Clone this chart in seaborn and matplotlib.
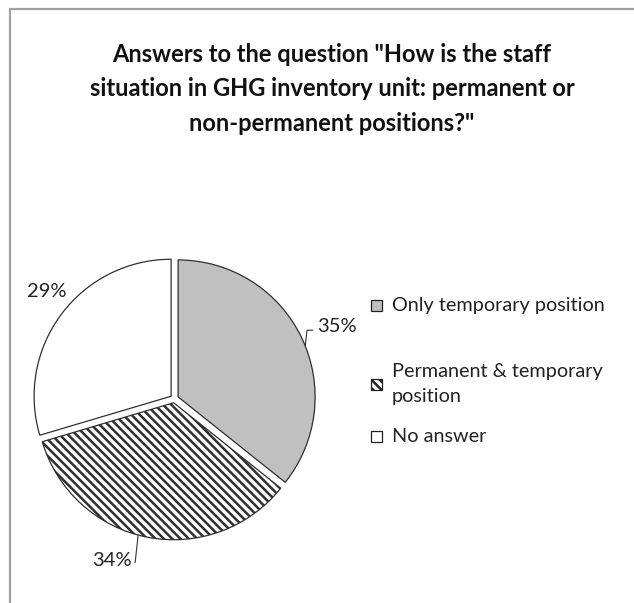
import matplotlib
matplotlib.use("Agg")
import matplotlib.pyplot as plt
import seaborn as sns
from matplotlib.patches import Rectangle
from matplotlib.lines import Line2D
import numpy as np

# Survey answers (percent of respondents)
categories = ["Only temporary position", "Permanent & temporary\nposition", "No answer"]
shares = [35, 34, 29]
pct_labels = ["35%", "34%", "29%"]

title = ('Answers to the question "How is the staff\n'
         'situation in GHG inventory unit: permanent or\n'
         'non-permanent positions?"')

sns.set_theme(style="white")
plt.rcParams["font.family"] = ["Lato", "DejaVu Sans"]
plt.rcParams["hatch.linewidth"] = 1.8

W, H = 634, 603
fig = plt.figure(figsize=(W / 100, H / 100), dpi=100)
fig.patch.set_facecolor("white")

fills = ["#c0c0c0", "white", "white"]
hatches = [None, "\\\\\\\\", None]

# Pie axes: 1 data unit = 137 px, centre at (174, 399) px from top-left
R_PX = 137.0
span = 1.2
cx, cy = 174.4, 398.7
size = 2 * span * R_PX
ax = fig.add_axes([(cx - span * R_PX) / W, (H - cy - span * R_PX) / H, size / W, size / H])

explode = [0.03, 0.03, 0.03]
wedges, _ = ax.pie(shares, startangle=90, counterclock=False, explode=explode,
                   colors=fills, radius=1.0,
                   wedgeprops=dict(edgecolor="#303030", linewidth=0.9))
for w, h in zip(wedges, hatches):
    if h:
        w.set_hatch(h)
ax.set_xlim(-span, span)
ax.set_ylim(-span, span)
ax.set_aspect("equal")
ax.axis("off")

# Percentage labels with leader lines
def arc_point(w, frac=0.5):
    ang = np.deg2rad(w.theta1 + (w.theta2 - w.theta1) * frac)
    c = w.center
    return c[0] + w.r * np.cos(ang), c[1] + w.r * np.sin(ang)

txt_kw = dict(fontsize=14.5, color="#222222")
# 35%
p = arc_point(wedges[0], 0.47)
ax.plot([p[0], 0.968, 1.01], [p[1], 0.50, 0.50], color="#333333", lw=0.8)
ax.text(1.04, 0.53, pct_labels[0], ha="left", va="center", **txt_kw)
# 34%
p = arc_point(wedges[1], 0.468)
ax.plot([p[0], -0.29], [p[1], -1.23], color="#333333", lw=0.8)
ax.text(-0.31, -1.18, pct_labels[1], ha="right", va="center", **txt_kw)
# 29%
ax.text(-0.93, 0.78, pct_labels[2], ha="center", va="center", **txt_kw)

# Title
fig.text(332 / W, 1 - 89 / H, title, ha="center", va="center", fontsize=17,
         fontweight="bold", linespacing=1.58, color="#111111")

# Legend
leg_y = [305, 384, 436]
for lab, y, fc, h in zip(categories, leg_y, fills, hatches):
    sq = 11
    r = Rectangle(((376 - sq / 2) / W, 1 - (y + sq / 2) / H), sq / W, sq / H,
                  transform=fig.transFigure, facecolor=fc, edgecolor="#222222",
                  linewidth=0.9, hatch=h)
    fig.add_artist(r)
    fig.text(392 / W, 1 - y / H, lab, ha="left", va="center", fontsize=14.3,
             color="#222222", linespacing=1.58)

# Chart frame (left and top edges)
fig.add_artist(Line2D([10 / W, 10 / W], [0, 1 - 9 / H], transform=fig.transFigure,
                      color="#a0a0a0", lw=1.6))
fig.add_artist(Line2D([10 / W, 1], [1 - 9 / H, 1 - 9 / H], transform=fig.transFigure,
                      color="#a0a0a0", lw=1.6))

fig.savefig("out.png", dpi=100, facecolor="white")
